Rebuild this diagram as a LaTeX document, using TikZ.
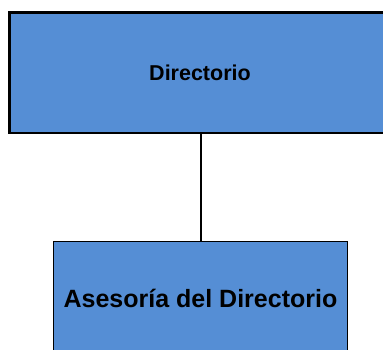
\documentclass[tikz,border=0pt]{standalone}
\usepackage{fontspec}
\setmainfont{Liberation Sans}
\usetikzlibrary{positioning}

\definecolor{cajaazul}{RGB}{85,142,213}

\tikzset{
  caja/.style={draw=black, fill=cajaazul, font=\bfseries, inner sep=0pt}
}

\begin{document}
\begin{tikzpicture}[x=1pt, y=-1pt]
\useasboundingbox (0,0) rectangle (383,349);

% cajas
\node [caja, line width=2.5pt, minimum width=381pt, minimum height=120.5pt,
       font=\bfseries\fontsize{21.5}{24}\selectfont] (dir) at (200,72.75) {Directorio};
\node [caja, line width=1.5pt, minimum width=294pt, minimum height=113pt,
       font=\bfseries\fontsize{25}{29}\selectfont] (ase) at (200.5,298) {Asesoría del Directorio};

% conector
\draw [line width=1.5pt] ([xshift=1pt]dir.south) -- ([xshift=1pt]dir.south |- ase.north);
\end{tikzpicture}
\end{document}
